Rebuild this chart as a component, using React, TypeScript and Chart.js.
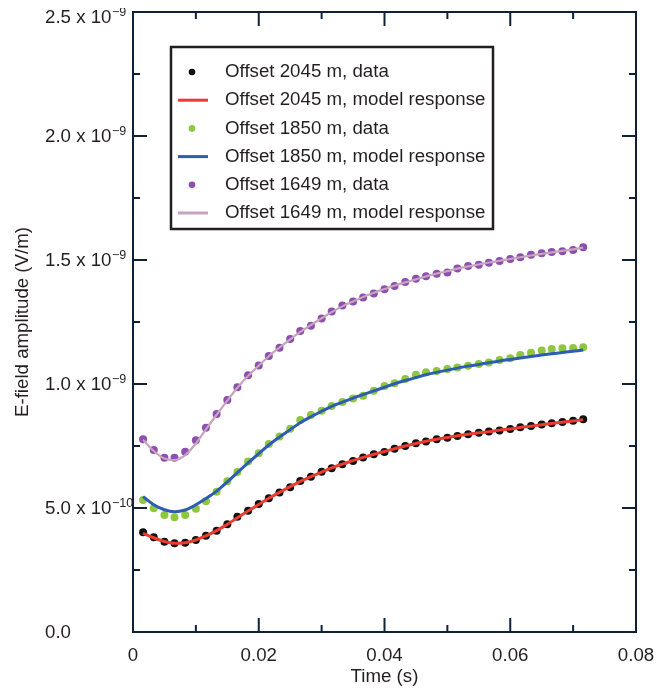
import React, { useEffect, useRef } from "react";
import { Chart, registerables } from "chart.js";

Chart.register(...registerables);

// Time (s) sample points shared by data and model curves
const times = [
  0.0016, 0.0033, 0.005, 0.0066, 0.0083, 0.01, 0.0116, 0.0133, 0.015, 0.0166,
  0.0183, 0.02, 0.0216, 0.0233, 0.025, 0.0266, 0.0283, 0.03, 0.0316, 0.0333,
  0.035, 0.0366, 0.0383, 0.04, 0.0416, 0.0433, 0.045, 0.0466, 0.0483, 0.05,
  0.0516, 0.0533, 0.055, 0.0566, 0.0583, 0.06, 0.0616, 0.0633, 0.065, 0.0666,
  0.0683, 0.07, 0.0716,
];

// Values in units of 1e-10 V/m
const data2045 = [
  4.02, 3.82, 3.64, 3.58, 3.6, 3.71, 3.88, 4.08, 4.34, 4.65, 4.89, 5.16, 5.39,
  5.62, 5.84, 6.09, 6.26, 6.46, 6.6, 6.76, 6.9, 7.04, 7.17, 7.26, 7.39, 7.5,
  7.61, 7.68, 7.77, 7.83, 7.9, 7.97, 8.03, 8.08, 8.13, 8.19, 8.26, 8.31, 8.37,
  8.42, 8.47, 8.52, 8.58,
];
const model2045 = [
  3.98, 3.8, 3.65, 3.58, 3.6, 3.71, 3.88, 4.09, 4.34, 4.61, 4.88, 5.14, 5.39,
  5.63, 5.86, 6.07, 6.27, 6.45, 6.62, 6.77, 6.91, 7.04, 7.17, 7.28, 7.39, 7.5,
  7.6, 7.69, 7.77, 7.84, 7.91, 7.97, 8.03, 8.08, 8.14, 8.19, 8.25, 8.3, 8.36,
  8.41, 8.46, 8.51, 8.56,
];
const data1850 = [
  5.32, 4.99, 4.72, 4.63, 4.72, 4.97, 5.27, 5.66, 6.08, 6.45, 6.87, 7.21, 7.58,
  7.88, 8.2, 8.55, 8.75, 8.92, 9.11, 9.27, 9.42, 9.53, 9.73, 9.92, 10.03, 10.2,
  10.37, 10.47, 10.52, 10.6, 10.67, 10.74, 10.81, 10.87, 10.97, 11.04, 11.17,
  11.26, 11.35, 11.41, 11.44, 11.45, 11.48,
];
const model1850 = [
  5.46, 5.13, 4.93, 4.85, 4.92, 5.13, 5.38, 5.68, 6.05, 6.43, 6.82, 7.19, 7.54,
  7.86, 8.16, 8.44, 8.68, 8.9, 9.1, 9.27, 9.43, 9.57, 9.72, 9.87, 10.01, 10.14,
  10.26, 10.37, 10.47, 10.56, 10.64, 10.72, 10.79, 10.86, 10.93, 10.99, 11.05,
  11.11, 11.17, 11.22, 11.27, 11.32, 11.37,
];
const data1649 = [
  7.77, 7.34, 7.03, 7.03, 7.27, 7.73, 8.24, 8.79, 9.35, 9.87, 10.35, 10.75,
  11.13, 11.46, 11.81, 12.14, 12.35, 12.64, 12.92, 13.17, 13.33, 13.49, 13.65,
  13.82, 13.95, 14.11, 14.24, 14.34, 14.45, 14.5, 14.66, 14.76, 14.81, 14.89,
  14.96, 15.04, 15.11, 15.21, 15.27, 15.32, 15.35, 15.4, 15.51,
];
const model1649 = [
  7.75, 7.3, 7.0, 6.93, 7.13, 7.6, 8.17, 8.76, 9.33, 9.85, 10.32, 10.74, 11.12,
  11.47, 11.8, 12.1, 12.38, 12.65, 12.9, 13.13, 13.33, 13.51, 13.68, 13.83,
  13.97, 14.1, 14.22, 14.34, 14.45, 14.55, 14.65, 14.74, 14.82, 14.9, 14.97,
  15.04, 15.11, 15.18, 15.25, 15.31, 15.37, 15.43, 15.5,
];

const seriesLabels = [
  "Offset 2045 m, data",
  "Offset 2045 m, model response",
  "Offset 1850 m, data",
  "Offset 1850 m, model response",
  "Offset 1649 m, data",
  "Offset 1649 m, model response",
];

const xMajorTicks = [0, 0.02, 0.04, 0.06, 0.08];
const xTickLabels = ["0", "0.02", "0.04", "0.06", "0.08"];
const xMinorTicks = [0.01, 0.03, 0.05, 0.07];
const yMajorTicks = [0, 0.5e-9, 1.0e-9, 1.5e-9, 2.0e-9, 2.5e-9];
const yTickMantissa = ["0.0", "5.0 x 10", "1.0 x 10", "1.5 x 10", "2.0 x 10", "2.5 x 10"];
const yTickExponent = ["", "\u221210", "\u22129", "\u22129", "\u22129", "\u22129"];
const yMinorTicks = [0.25e-9, 0.75e-9, 1.25e-9, 1.75e-9, 2.25e-9];

const FONT = '"Liberation Sans", Arial, Helvetica, sans-serif';
const FS = 18.7;
const TEXT = "#231f20";
const AXIS = "#0f2138";

const toPts = (vals: number[]) => vals.map((v, i) => ({ x: times[i], y: v * 1e-10 }));

const decorPlugin = {
  id: "decor",
  afterDraw(chart: any) {
    const { ctx, chartArea: a, scales } = chart;
    const xs = scales.x;
    const ys = scales.y;
    ctx.save();
    // frame
    ctx.strokeStyle = AXIS;
    ctx.lineWidth = 2;
    ctx.strokeRect(a.left, a.top, a.right - a.left, a.bottom - a.top);
    const seg = (x1: number, y1: number, x2: number, y2: number) => {
      ctx.beginPath();
      ctx.moveTo(x1, y1);
      ctx.lineTo(x2, y2);
      ctx.stroke();
    };
    const MAJ = 14;
    const MIN = 7;
    yMajorTicks.forEach((v) => {
      const p = ys.getPixelForValue(v);
      seg(a.left, p, a.left + MAJ, p);
      seg(a.right, p, a.right - MAJ, p);
    });
    yMinorTicks.forEach((v) => {
      const p = ys.getPixelForValue(v);
      seg(a.left, p, a.left + MIN, p);
      seg(a.right, p, a.right - MIN, p);
    });
    xMajorTicks.forEach((v) => {
      const p = xs.getPixelForValue(v);
      seg(p, a.bottom, p, a.bottom - MAJ);
      seg(p, a.top, p, a.top + MAJ);
    });
    xMinorTicks.forEach((v) => {
      const p = xs.getPixelForValue(v);
      seg(p, a.bottom, p, a.bottom - MIN);
      seg(p, a.top, p, a.top + MIN);
    });

    // y tick labels
    ctx.fillStyle = TEXT;
    ctx.textBaseline = "middle";
    ctx.textAlign = "left";
    const labelX = 37;
    yMajorTicks.forEach((v, i) => {
      const p = Math.max(ys.getPixelForValue(v) + 1, a.top + 6);
      ctx.font = `${FS}px ${FONT}`;
      ctx.fillText(yTickMantissa[i], labelX, p);
      if (yTickExponent[i]) {
        const w = ctx.measureText(yTickMantissa[i]).width;
        ctx.font = `12.5px ${FONT}`;
        ctx.fillText(yTickExponent[i], labelX + w + 0.5, p - 5);
      }
    });

    // x tick labels
    ctx.font = `${FS}px ${FONT}`;
    ctx.textAlign = "center";
    xMajorTicks.forEach((v, i) => {
      ctx.fillText(xTickLabels[i], xs.getPixelForValue(v), a.bottom + 24);
    });

    // axis titles
    ctx.fillText("Time (s)", (a.left + a.right) / 2, a.bottom + 45);
    ctx.save();
    ctx.translate(15, (a.top + a.bottom) / 2);
    ctx.rotate(-Math.PI / 2);
    ctx.fillText("E-field amplitude (V/m)", 0, 0);
    ctx.restore();

    // legend
    const bx = a.left + 38;
    const by = a.top + 35;
    const bw = 322;
    const bh = 182;
    ctx.fillStyle = "#ffffff";
    ctx.fillRect(bx, by, bw, bh);
    ctx.strokeStyle = TEXT;
    ctx.lineWidth = 2.5;
    ctx.strokeRect(bx, by, bw, bh);
    const dsets = chart.data.datasets;
    dsets.forEach((ds: any, i: number) => {
      const ry = by + 25 + i * 28.2;
      if (ds.showLine === false) {
        ctx.fillStyle = ds.pointBackgroundColor;
        ctx.beginPath();
        ctx.arc(bx + 21, ry, 3.3, 0, Math.PI * 2);
        ctx.fill();
      } else {
        ctx.strokeStyle = ds.borderColor;
        ctx.lineWidth = 3;
        seg(bx + 7, ry, bx + 37, ry);
      }
      ctx.fillStyle = TEXT;
      ctx.textAlign = "left";
      ctx.font = `${FS}px ${FONT}`;
      ctx.fillText(ds.label, bx + 54, ry);
    });
    ctx.restore();
  },
};

export default function App() {
  const ref = useRef<HTMLCanvasElement | null>(null);
  useEffect(() => {
    if (!ref.current) return;
    const dotDs = (label: string, vals: number[], color: string) => ({
      label,
      data: toPts(vals),
      showLine: false,
      pointRadius: 4,
      pointBorderWidth: 0,
      pointBackgroundColor: color,
      borderColor: color,
      backgroundColor: color,
      order: 1,
    });
    const lineDs = (label: string, vals: number[], color: string, w: number) => ({
      label,
      data: toPts(vals),
      showLine: true,
      pointRadius: 0,
      borderColor: color,
      borderWidth: w,
      cubicInterpolationMode: "monotone",
      fill: false,
      order: 0,
    });
    const chart = new Chart(ref.current, {
      type: "scatter",
      data: {
        datasets: [
          dotDs(seriesLabels[0], data2045, "#111111"),
          lineDs(seriesLabels[1], model2045, "#ec3b2f", 3),
          dotDs(seriesLabels[2], data1850, "#8dc63f"),
          lineDs(seriesLabels[3], model1850, "#2c5db3", 3),
          dotDs(seriesLabels[4], data1649, "#8a4fb0"),
          lineDs(seriesLabels[5], model1649, "#c9a3bd", 2.2),
        ] as any,
      },
      options: {
        animation: false,
        responsive: true,
        maintainAspectRatio: false,
        layout: { padding: { top: 4, right: 23, left: 0, bottom: 0 } },
        plugins: { legend: { display: false }, tooltip: { enabled: false } },
        scales: {
          x: {
            type: "linear",
            min: 0,
            max: 0.08,
            grid: { display: false },
            border: { display: false },
            ticks: { display: false },
            afterFit: (s: any) => {
              s.height = 58;
            },
          },
          y: {
            type: "linear",
            min: 0,
            max: 2.5e-9,
            grid: { display: false },
            border: { display: false },
            ticks: { display: false },
            afterFit: (s: any) => {
              s.width = 125;
            },
          },
        },
      } as any,
      plugins: [decorPlugin],
    });
    return () => chart.destroy();
  }, []);
  return (
    <div style={{ width: 651, height: 682, position: "relative" }}>
      <canvas ref={ref} />
    </div>
  );
}
